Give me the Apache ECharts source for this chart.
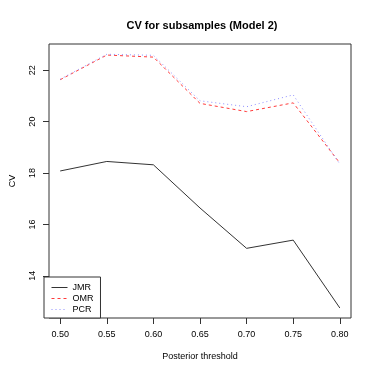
<!DOCTYPE html>
<html>
<head>
<meta charset="utf-8">
<script src="https://cdn.jsdelivr.net/npm/echarts@6/dist/echarts.min.js"></script>
<style>
  html, body { margin: 0; padding: 0; background: #fff; }
  #main { width: 374px; height: 374px; }
</style>
</head>
<body>
<div id="main"></div>
<script>
// data
var thresholds = [0.50, 0.55, 0.60, 0.65, 0.70, 0.75, 0.80];
var jmr = [18.08, 18.45, 18.32, 16.64, 15.07, 15.39, 12.75];
var omr = [21.63, 22.59, 22.51, 20.71, 20.39, 20.73, 18.39];
var pcr = [21.65, 22.62, 22.58, 20.81, 20.58, 21.04, 18.35];
var xTicks = [0.50, 0.55, 0.60, 0.65, 0.70, 0.75, 0.80];
var yTicks = [14, 16, 18, 20, 22];

function pairs(ys) {
  return thresholds.map(function (x, i) { return [x, ys[i]]; });
}

var font = 'Liberation Sans, Arial, Helvetica, sans-serif';
var chart = echarts.init(document.getElementById('main'), null, { renderer: 'canvas' });

chart.setOption({
  animation: false,
  backgroundColor: '#fff',
  textStyle: { fontFamily: font },
  title: {
    text: 'CV for subsamples (Model 2)',
    left: 197,
    textAlign: 'center',
    top: 15,
    textStyle: { fontSize: 11, fontWeight: 'bold', color: '#000', fontFamily: font }
  },
  grid: {
    left: 44, right: 23, top: 44, bottom: 56,
    show: true, borderColor: '#333', borderWidth: 1, backgroundColor: 'transparent'
  },
  legend: {
    orient: 'vertical',
    left: 44, bottom: 56,
    padding: [6, 7, 4, 7],
    itemGap: 2,
    itemWidth: 16, itemHeight: 9,
    borderColor: '#333', borderWidth: 1,
    backgroundColor: '#fff',
    itemStyle: { opacity: 0 },
    lineStyle: { width: 1 },
    textStyle: { fontSize: 9, color: '#000', fontFamily: font },
    data: ['JMR', 'OMR', 'PCR']
  },
  xAxis: {
    type: 'value',
    min: 0.488, max: 0.812,
    name: 'Posterior threshold',
    nameLocation: 'middle',
    nameGap: 34,
    nameTextStyle: { fontSize: 9, color: '#000' },
    axisLine: { show: false },
    splitLine: { show: false },
    axisTick: { show: true, length: 6, lineStyle: { color: '#333' }, customValues: xTicks },
    axisLabel: {
      fontSize: 9, color: '#000', margin: 12,
      customValues: xTicks,
      formatter: function (v) { return v.toFixed(2); }
    }
  },
  yAxis: {
    type: 'value',
    min: 12.36, max: 23.02,
    name: 'CV',
    nameLocation: 'middle',
    nameGap: 32,
    nameTextStyle: { fontSize: 9, color: '#000' },
    axisLine: { show: false },
    splitLine: { show: false },
    axisTick: { show: true, length: 6, lineStyle: { color: '#333' }, customValues: yTicks },
    axisLabel: {
      fontSize: 9, color: '#000', margin: 12, rotate: 90,
      customValues: yTicks
    }
  },
  series: [
    {
      name: 'JMR', type: 'line', symbol: 'none', data: pairs(jmr),
      lineStyle: { color: '#333', width: 1, type: 'solid' },
      itemStyle: { color: '#333' }
    },
    {
      name: 'OMR', type: 'line', symbol: 'none', data: pairs(omr),
      lineStyle: { color: '#ff3b3b', width: 1, type: [3, 3] },
      itemStyle: { color: '#ff3b3b' }
    },
    {
      name: 'PCR', type: 'line', symbol: 'none', data: pairs(pcr),
      lineStyle: { color: '#8f8fff', width: 1, type: [1, 3] },
      itemStyle: { color: '#8f8fff' }
    }
  ]
});
</script>
</body>
</html>
